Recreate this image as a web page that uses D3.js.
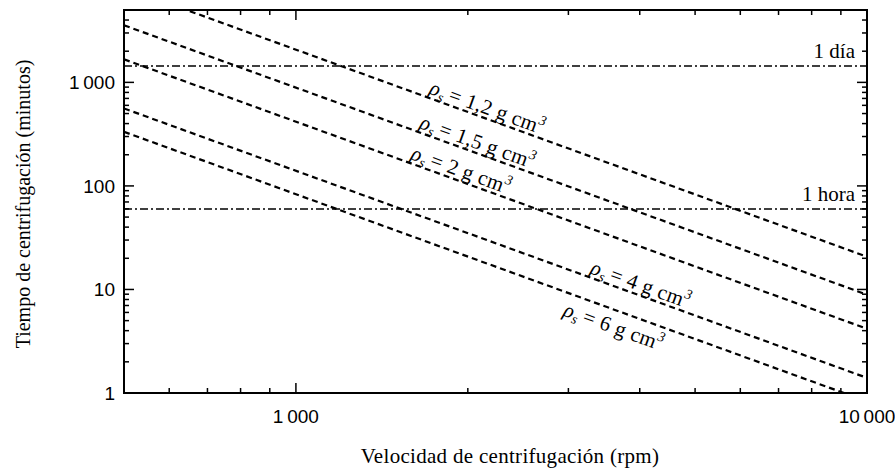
<!DOCTYPE html>
<html>
<head>
<meta charset="utf-8">
<script src="https://cdn.jsdelivr.net/npm/d3@7"></script>
<style>
  html, body { margin: 0; padding: 0; background: #fff; }
  svg { display: block; }
</style>
</head>
<body>
<svg id="chart" width="895" height="468"></svg>
<script>
// ---- data ----
const xDomain = [500, 10000];
const yDomain = [1, 5000];
const rpmEnds = [500, 10000];
const densityLabels = ["1,2", "1,5", "2", "4", "6"];
const timeAt500 = [8280, 3560, 1670, 560, 333];
const timeAt10000 = [20.7, 8.9, 4.17, 1.40, 0.83];
const labelRpm = [1695, 1630, 1573, 3246, 3020];
const refTimes = [1440, 60];
const refLabels = ["1 día", "1 hora"];
const xMajorTicks = [1000, 10000];
const xMajorLabels = ["1\u2009000", "10\u2009000"];
const xMinorTicks = [600, 700, 800, 900, 2000, 3000, 4000, 5000, 6000, 7000, 8000, 9000];
const yMajorTicks = [1, 10, 100, 1000];
const yMajorLabels = ["1", "10", "100", "1\u2009000"];
const yMinorTicks = [2, 3, 4, 5, 6, 7, 8, 9, 20, 30, 40, 50, 60, 70, 80, 90, 200, 300, 400, 500, 600, 700, 800, 900, 2000, 3000, 4000];
const xTitle = "Velocidad de centrifugación (rpm)";
const yTitle = "Tiempo de centrifugación (minutos)";

// ---- layout ----
const L = 124, R = 867, T = 10, B = 393;
const serif = "'Liberation Serif', 'Times New Roman', serif";
const sans = "'Liberation Sans', Arial, sans-serif";

const svg = d3.select("#chart");
const x = d3.scaleLog().domain(xDomain).range([L, R]);
const y = d3.scaleLog().domain(yDomain).range([B, T]);

svg.append("defs").append("clipPath").attr("id", "plotclip")
  .append("rect").attr("x", L).attr("y", T).attr("width", R - L).attr("height", B - T);

const plot = svg.append("g").attr("clip-path", "url(#plotclip)");

// reference lines (dash-dot)
plot.selectAll("line.ref").data(refTimes).enter().append("line")
  .attr("class", "ref")
  .attr("x1", x(xDomain[0])).attr("x2", x(xDomain[1]))
  .attr("y1", d => y(d)).attr("y2", d => y(d))
  .attr("stroke", "#000").attr("stroke-width", 1.5)
  .attr("stroke-dasharray", "8,3,2,3");

// series lines (dashed)
const series = densityLabels.map((lab, i) => ({
  lab, pts: [[rpmEnds[0], timeAt500[i]], [rpmEnds[1], timeAt10000[i]]], rpm: labelRpm[i], i
}));
const lineGen = d3.line().x(d => x(d[0])).y(d => y(d[1]));
plot.selectAll("path.s").data(series).enter().append("path")
  .attr("class", "s")
  .attr("d", d => lineGen(d.pts))
  .attr("fill", "none").attr("stroke", "#000").attr("stroke-width", 2.2)
  .attr("stroke-dasharray", "6,4");

// ref labels
svg.selectAll("text.ref").data(refTimes).enter().append("text")
  .attr("x", 855).attr("y", d => y(d) - 8)
  .attr("text-anchor", "end")
  .attr("font-family", serif).attr("font-size", 21)
  .text((d, i) => refLabels[i]);

// series labels
series.forEach(s => {
  const p0 = [x(s.pts[0][0]), y(s.pts[0][1])];
  const p1 = [x(s.pts[1][0]), y(s.pts[1][1])];
  const ang = Math.atan2(p1[1] - p0[1], p1[0] - p0[0]) * 180 / Math.PI;
  const t = (Math.log(s.rpm) - Math.log(s.pts[0][0])) / (Math.log(s.pts[1][0]) - Math.log(s.pts[0][0]));
  const valueAt = Math.exp(Math.log(s.pts[0][1]) + t * (Math.log(s.pts[1][1]) - Math.log(s.pts[0][1])));
  const px = x(s.rpm), py = y(valueAt);
  const off = s.i === 4 ? 23 : -4;
  const g = svg.append("g").attr("transform", `translate(${px},${py}) rotate(${ang})`);
  const txt = g.append("text").attr("x", 0).attr("y", off)
    .attr("font-family", serif).attr("font-size", 21).attr("letter-spacing", 0.3);
  txt.append("tspan").attr("font-style", "italic").text("ρ");
  txt.append("tspan").attr("font-style", "italic").attr("font-size", 14).attr("dy", 4).text("s");
  txt.append("tspan").attr("dy", -4).text("\u2009= " + s.lab + " g cm");
  txt.append("tspan").attr("font-style", "italic").attr("font-size", 14).attr("dy", -9).text("3");
});

// frame
svg.append("rect").attr("x", L).attr("y", T).attr("width", R - L).attr("height", B - T)
  .attr("fill", "none").attr("stroke", "#000").attr("stroke-width", 2);

// ticks
const tk = svg.append("g").attr("stroke", "#000").attr("stroke-width", 1.5);
function xt(v, len) {
  tk.append("line").attr("x1", x(v)).attr("x2", x(v)).attr("y1", B).attr("y2", B - len);
  tk.append("line").attr("x1", x(v)).attr("x2", x(v)).attr("y1", T).attr("y2", T + len);
}
function yt(v, len) {
  tk.append("line").attr("y1", y(v)).attr("y2", y(v)).attr("x1", L).attr("x2", L + len);
  tk.append("line").attr("y1", y(v)).attr("y2", y(v)).attr("x1", R).attr("x2", R - len);
}
xMajorTicks.forEach(v => xt(v, 10));
xMinorTicks.forEach(v => xt(v, 5));
yMajorTicks.forEach(v => yt(v, 10));
yMinorTicks.forEach(v => yt(v, 5));

// tick labels
svg.selectAll("text.xl").data(xMajorTicks).enter().append("text")
  .attr("x", d => x(d)).attr("y", 423)
  .attr("text-anchor", "middle")
  .attr("font-family", sans).attr("font-size", 19)
  .text((d, i) => xMajorLabels[i]);
svg.selectAll("text.yl").data(yMajorTicks).enter().append("text")
  .attr("x", 115).attr("y", d => y(d))
  .attr("dy", "0.36em")
  .attr("text-anchor", "end")
  .attr("font-family", sans).attr("font-size", 19)
  .text((d, i) => yMajorLabels[i]);

// titles
svg.append("text").attr("x", 510).attr("y", 463).attr("text-anchor", "middle")
  .attr("font-family", serif).attr("font-size", 21).attr("letter-spacing", 0.3).text(xTitle);
svg.append("text").attr("transform", "translate(30,204) rotate(-90)").attr("text-anchor", "middle")
  .attr("font-family", serif).attr("font-size", 20).text(yTitle);
</script>
</body>
</html>
